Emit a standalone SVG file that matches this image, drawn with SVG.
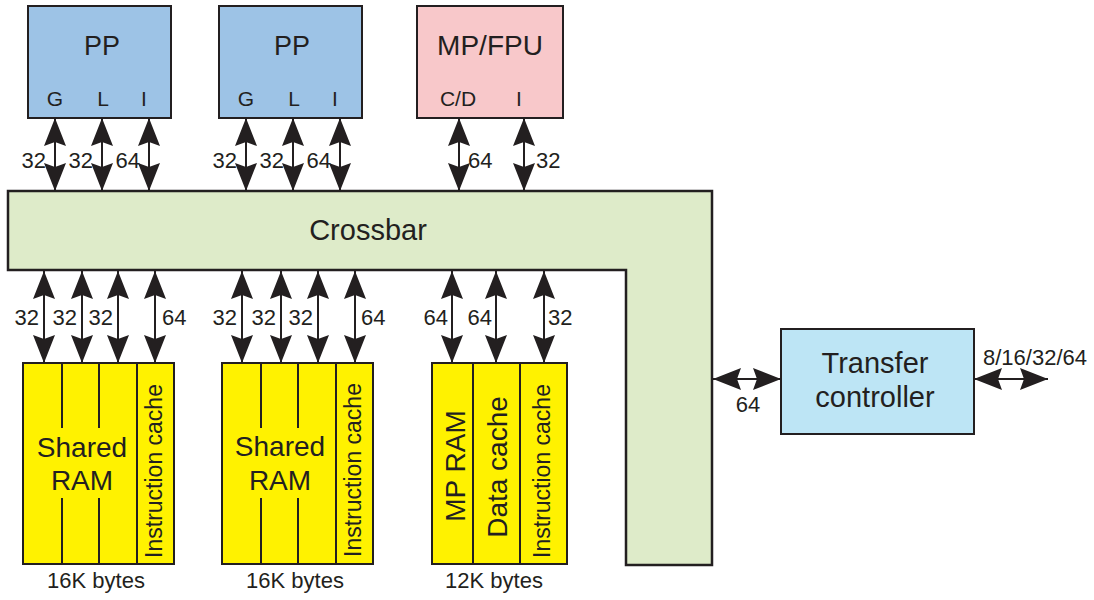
<svg xmlns="http://www.w3.org/2000/svg" width="1094" height="600" viewBox="0 0 1094 600">
<style>
text{font-family:"Liberation Sans",Arial,sans-serif;fill:#231f20}
.box{stroke:#231f20;stroke-width:2}
.pp{fill:#9dc3e6}
.mp{fill:#f8c8ca}
.mem{fill:#fff200}
.tc{fill:#bde5f5}
.xb{fill:#deebc9;stroke:#231f20;stroke-width:2.5}
.div{stroke:#231f20;stroke-width:2}
.arr{stroke:#231f20;stroke-width:2;fill:none;marker-start:url(#ah);marker-end:url(#ah)}
.t27{font-size:27px}
.t28{font-size:28px}
.t29{font-size:29px}
.t21{font-size:21px}
.t22{font-size:22px}
.t23{font-size:23px}
.m{text-anchor:middle}
.e{text-anchor:end}
</style>
<defs>
<marker id="ah" viewBox="0 0 28 22" refX="28" refY="11" markerWidth="28" markerHeight="22" markerUnits="userSpaceOnUse" orient="auto-start-reverse">
<path d="M0,0 L28,11 L0,22 L4,11 z" fill="#231f20"/>
</marker>
</defs>

<g id="crossbar">
<polygon class="xb" points="8,191 712,191 712,565 626,565 626,270 8,270"/>
<text class="t29 m" x="368" y="240">Crossbar</text>
</g>

<g id="pp1">
<rect class="box pp" x="28" y="6" width="143" height="112"/>
<text class="t27 m" x="102" y="55">PP</text>
<text class="t21 m" x="55" y="106">G</text>
<text class="t21 m" x="103" y="106">L</text>
<text class="t21 m" x="144" y="106">I</text>
</g>

<g id="pp2">
<rect class="box pp" x="219" y="6" width="143" height="112"/>
<text class="t27 m" x="292" y="55">PP</text>
<text class="t21 m" x="246" y="106">G</text>
<text class="t21 m" x="294" y="106">L</text>
<text class="t21 m" x="335" y="106">I</text>
</g>

<g id="mpfpu">
<rect class="box mp" x="417" y="6" width="146" height="112"/>
<text class="t28 m" x="490" y="55">MP/FPU</text>
<text class="t21 m" x="458" y="106">C/D</text>
<text class="t21 m" x="519" y="106">I</text>
</g>

<g id="mem1">
<rect class="box mem" x="23" y="363" width="151" height="201"/>
<line class="div" x1="62" y1="363" x2="62" y2="428"/>
<line class="div" x1="62" y1="498" x2="62" y2="564"/>
<line class="div" x1="99" y1="363" x2="99" y2="428"/>
<line class="div" x1="99" y1="498" x2="99" y2="564"/>
<line class="div" x1="137" y1="363" x2="137" y2="564"/>
<text class="t28 m" x="82" y="457">Shared</text>
<text class="t28 m" x="82" y="490">RAM</text>
<text class="t23 m" transform="translate(162,471) rotate(-90)">Instruction cache</text>
<text class="t22 m" x="96" y="588">16K bytes</text>
</g>

<g id="mem2">
<rect class="box mem" x="222" y="363" width="151" height="201"/>
<line class="div" x1="261" y1="363" x2="261" y2="428"/>
<line class="div" x1="261" y1="498" x2="261" y2="564"/>
<line class="div" x1="298" y1="363" x2="298" y2="428"/>
<line class="div" x1="298" y1="498" x2="298" y2="564"/>
<line class="div" x1="336" y1="363" x2="336" y2="564"/>
<text class="t28 m" x="280" y="456">Shared</text>
<text class="t28 m" x="280" y="490">RAM</text>
<text class="t23 m" transform="translate(361,470) rotate(-90)">Instruction cache</text>
<text class="t22 m" x="295" y="588">16K bytes</text>
</g>

<g id="mem3">
<rect class="box mem" x="432" y="363" width="135" height="201"/>
<line class="div" x1="473" y1="363" x2="473" y2="564"/>
<line class="div" x1="520" y1="363" x2="520" y2="564"/>
<text class="t28 m" transform="translate(465,466) rotate(-90)">MP RAM</text>
<text class="t28 m" transform="translate(507,467) rotate(-90)">Data cache</text>
<text class="t23 m" transform="translate(550,471) rotate(-90)">Instruction cache</text>
<text class="t22 m" x="494" y="588">12K bytes</text>
</g>

<g id="transfer">
<rect class="box tc" x="781" y="329" width="193" height="105"/>
<text class="t29 m" x="875" y="373">Transfer</text>
<text class="t29 m" x="875" y="407">controller</text>
</g>

<g id="connectors">
<line class="arr" x1="55" y1="118" x2="55" y2="191"/>
<line class="arr" x1="102" y1="118" x2="102" y2="191"/>
<line class="arr" x1="149" y1="118" x2="149" y2="191"/>
<line class="arr" x1="246" y1="118" x2="246" y2="191"/>
<line class="arr" x1="293" y1="118" x2="293" y2="191"/>
<line class="arr" x1="340" y1="118" x2="340" y2="191"/>
<line class="arr" x1="459" y1="118" x2="459" y2="191"/>
<line class="arr" x1="524" y1="118" x2="524" y2="191"/>
<text class="t22 e" x="46" y="168">32</text>
<text class="t22 e" x="93" y="168">32</text>
<text class="t22 e" x="140" y="168">64</text>
<text class="t22 e" x="237" y="168">32</text>
<text class="t22 e" x="284" y="168">32</text>
<text class="t22 e" x="331" y="168">64</text>
<text class="t22" x="468" y="168">64</text>
<text class="t22" x="536" y="168">32</text>

<line class="arr" x1="44" y1="271" x2="44" y2="363"/>
<line class="arr" x1="82" y1="271" x2="82" y2="363"/>
<line class="arr" x1="118" y1="271" x2="118" y2="363"/>
<line class="arr" x1="155" y1="271" x2="155" y2="363"/>
<line class="arr" x1="242" y1="271" x2="242" y2="363"/>
<line class="arr" x1="281" y1="271" x2="281" y2="363"/>
<line class="arr" x1="318" y1="271" x2="318" y2="363"/>
<line class="arr" x1="355" y1="271" x2="355" y2="363"/>
<line class="arr" x1="452" y1="271" x2="452" y2="363"/>
<line class="arr" x1="496" y1="271" x2="496" y2="363"/>
<line class="arr" x1="544" y1="271" x2="544" y2="363"/>
<text class="t22 e" x="39" y="325">32</text>
<text class="t22 e" x="77" y="325">32</text>
<text class="t22 e" x="113" y="325">32</text>
<text class="t22" x="162" y="325">64</text>
<text class="t22 e" x="237" y="325">32</text>
<text class="t22 e" x="276" y="325">32</text>
<text class="t22 e" x="313" y="325">32</text>
<text class="t22" x="361" y="325">64</text>
<text class="t22 e" x="448" y="325">64</text>
<text class="t22 e" x="492" y="325">64</text>
<text class="t22" x="548" y="325">32</text>

<line class="arr" x1="713" y1="379" x2="781" y2="379"/>
<text class="t22 m" x="748" y="412">64</text>
<line class="arr" x1="974" y1="379" x2="1048" y2="379"/>
<text class="t22" x="983" y="365">8/16/32/64</text>
</g>
</svg>
